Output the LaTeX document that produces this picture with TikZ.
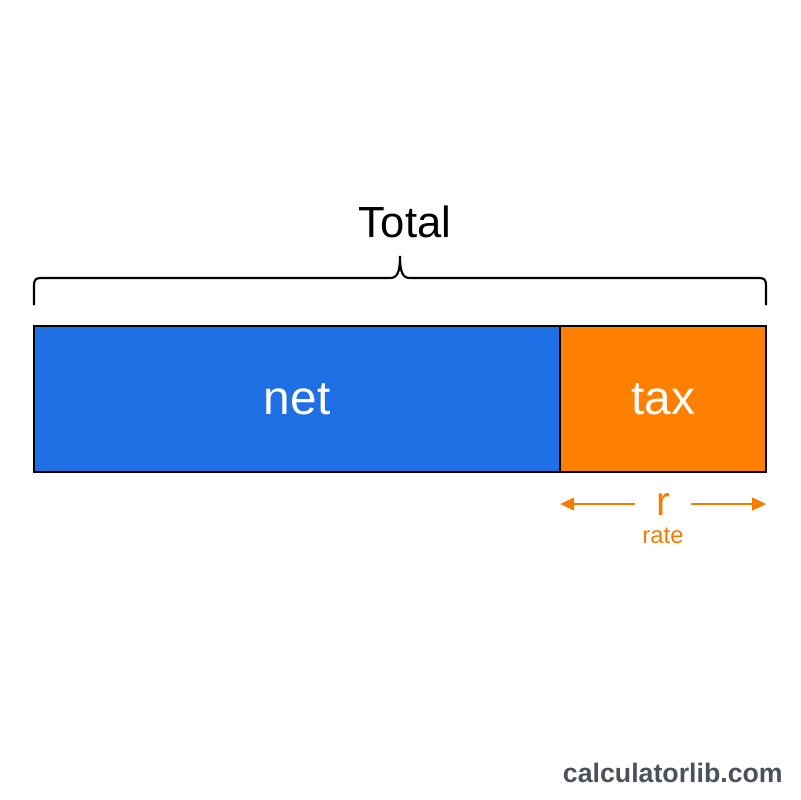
\documentclass[tikz,border=0pt]{standalone}
\usepackage{fontspec}
\setmainfont{Liberation Sans}
\usetikzlibrary{arrows.meta,positioning}
\definecolor{netblue}{RGB}{31,111,229}
\definecolor{taxorange}{RGB}{255,128,0}
\definecolor{rateorange}{RGB}{245,124,0}
\definecolor{markgray}{RGB}{74,80,92}

\begin{document}
\begin{tikzpicture}[x=0.025cm,y=-0.025cm,
   part/.style={draw=black, line width=1pt, rectangle, minimum height=3.65cm, inner sep=0pt, outer sep=0pt, text=white, font=\fontsize{34}{40}\selectfont},
   brace/.style={draw=black, line width=1.5pt},
   ratelabel/.style={text=rateorange, inner sep=0pt},
   ratearrow/.style={draw=rateorange, line width=1.5pt, -{Triangle[length=10pt,width=9pt]}}]

   \useasboundingbox[fill=white] (0,0) rectangle (800,800);

   \node[part, fill=netblue, minimum width=13.15cm, anchor=north west] (net) at (34,326) {net};
   \node[part, fill=taxorange, minimum width=5.15cm] (tax) [right=0pt of net] {tax};

   % brace over the whole bar
   \draw[brace] (34,305) -- (34,286) .. controls (34,279) and (36,278) .. (42,278)
      -- (390,278) .. controls (397,278) and (400,273) .. (400,256)
      .. controls (400,273) and (403,278) .. (410,278)
      -- (758,278) .. controls (764,278) and (766,279) .. (766,286) -- (766,305);
   \node[inner sep=0pt, anchor=base, font=\fontsize{31}{36}\selectfont] (total) at (405,238) {Total};

   \node[ratelabel, anchor=base, minimum width=1.4cm, font=\fontsize{29}{34}\selectfont] (r) at (663,515) {r};
   \node[ratelabel, font=\fontsize{17}{20}\selectfont] (rate) [below=0.3cm of r] {rate};
   \draw[ratearrow] (r.west) -- (tax.west |- r.west);
   \draw[ratearrow] (r.east) -- (tax.east |- r.east);

   \node[inner sep=0pt, anchor=base east, text=markgray, font=\bfseries\fontsize{19}{22}\selectfont] (mark) at (783,782) {calculatorlib.com};

\end{tikzpicture}
\end{document}
